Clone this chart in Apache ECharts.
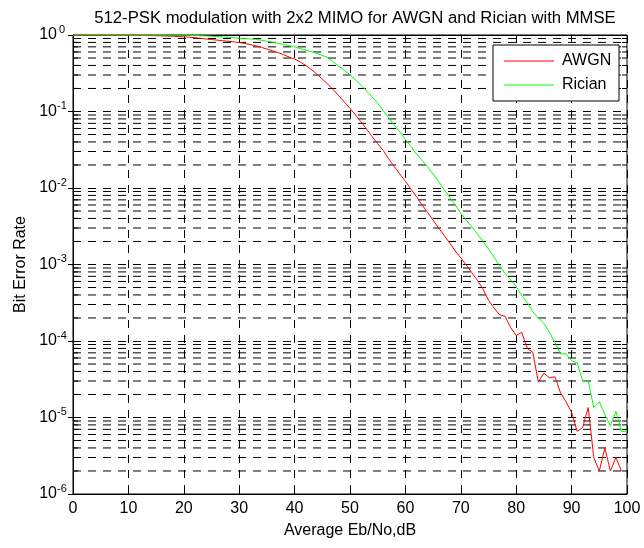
<!DOCTYPE html>
<html lang="en">
<head>
    <meta charset="utf-8">
    <title>512-PSK BER</title>
    <script src="https://cdn.jsdelivr.net/npm/echarts@6/dist/echarts.min.js"></script>
    <style>
        html, body { margin: 0; padding: 0; background: #fff; }
    </style>
</head>
<body>
<div id="main" style="width:644px;height:548px;"></div>

<script type="text/javascript">
    var ebno = [0,1,2,3,4,5,6,7,8,9,10,11,12,13,14,15,16,17,18,19,20,
        21,22,23,24,25,26,27,28,29,30,31,32,33,34,35,36,37,38,39,40,
        41,42,43,44,45,46,47,48,49,50,51,52,53,54,55,56,57,58,59,60,
        61,62,63,64,65,66,67,68,69,70,71,72,73,74,75,76,77,78,79,80,
        81,82,83,84,85,86,87,88,89,90,91,92,93,94,95,96,97,98,99,100];

    // AWGN (no point drawn at 100)
    var awgn = [0.997,0.997,0.996,0.996,0.995,0.995,0.994,0.993,0.992,0.991,
        0.99,0.988,0.986,0.984,0.981,0.978,0.974,0.969,0.963,0.955,
        0.946,0.935,0.922,0.905,0.888,0.872,0.857,0.842,0.828,0.813,
        0.797,0.775,0.75,0.722,0.69,0.655,0.622,0.59,0.555,0.515,
        0.485,0.445,0.4,0.355,0.31,0.265,0.228,0.192,0.16,0.132,
        0.11,0.09,0.073,0.059,0.047,0.038,0.031,0.024,0.019,0.0152,
        0.0122,0.0097,0.0077,0.006,0.0048,0.0038,0.003,0.0024,0.0019,0.0015,
        0.00122,0.00098,0.00078,0.00062,0.00048,0.00034,0.00027,0.00022,0.00021,0.00015,
        0.000118,0.00013,0.00008,0.000071,0.000029,0.000038,0.000033,0.000034,0.000021,0.000016,
        0.0000117,0.0000066,0.0000074,0.0000135,0.000003,0.000002,0.000004,0.000002,0.000003,0.000002,
        null];

    var rician = [0.999,0.999,0.999,0.999,0.999,0.999,0.999,0.998,0.998,0.998,
        0.998,0.997,0.997,0.996,0.996,0.995,0.994,0.993,0.992,0.991,
        0.99,0.988,0.985,0.98,0.972,0.963,0.952,0.94,0.93,0.918,
        0.905,0.895,0.888,0.878,0.855,0.83,0.805,0.78,0.755,0.725,
        0.7,0.665,0.635,0.605,0.575,0.54,0.505,0.445,0.39,0.345,
        0.3,0.26,0.22,0.185,0.155,0.128,0.103,0.083,0.066,0.054,
        0.043,0.035,0.028,0.023,0.019,0.0152,0.0122,0.0095,0.0076,0.006,
        0.0047,0.0038,0.0031,0.0025,0.002,0.0016,0.00125,0.00097,0.00076,0.00063,
        0.00052,0.00039,0.00032,0.00024,0.0002,0.00017,0.00013,0.000095,0.000068,0.000068,
        0.000055,0.000052,0.00003,0.00003,0.0000135,0.000016,0.000011,0.0000078,0.000012,0.0000066,
        0.0000066];

    var xTicks = [0,10,20,30,40,50,60,70,80,90,100];

    // minor log grid: 2..9 x 10^k
    var minorGrid = [
        2e-6,3e-6,4e-6,5e-6,6e-6,7e-6,8e-6,9e-6,
        2e-5,3e-5,4e-5,5e-5,6e-5,7e-5,8e-5,9e-5,
        2e-4,3e-4,4e-4,5e-4,6e-4,7e-4,8e-4,9e-4,
        2e-3,3e-3,4e-3,5e-3,6e-3,7e-3,8e-3,9e-3,
        2e-2,3e-2,4e-2,5e-2,6e-2,7e-2,8e-2,9e-2,
        2e-1,3e-1,4e-1,5e-1,6e-1,7e-1,8e-1,9e-1];

    var font = 'Liberation Sans, Arial, Helvetica, sans-serif';
    var dash = [8, 7];

    var toPairs = function (ys) {
        return ys.map(function (v, i) { return [ebno[i], v]; });
    };

    var expLabel = function (v) {
        var e = Math.round(Math.log(v) / Math.LN10);
        return '{b|10}{s|' + e + '}';
    };

    // grid lines and small ticks as broken polylines ('-' = gap)
    var gridData = [], tickData = [];
    minorGrid.forEach(function (v) {
        gridData.push([0, v], [100, v], '-');
        tickData.push([0, v], [0.9, v], '-', [99.1, v], [100, v], '-');
    });

    var myChart = echarts.init(document.getElementById('main'), null, { renderer: 'canvas' });

    myChart.setOption({
        animation: false,
        backgroundColor: '#fff',
        textStyle: { fontFamily: font, color: '#000' },
        title: {
            text: '512-PSK modulation with 2x2 MIMO for AWGN and Rician with MMSE',
            left: 350,
            textAlign: 'center',
            top: 5,
            textStyle: { fontFamily: font, fontSize: 16.7, fontWeight: 'normal', color: '#000' }
        },
        legend: {
            data: [{ name: 'AWGN', icon: 'rect' }, { name: 'Rician', icon: 'rect' }],
            orient: 'vertical',
            left: 493,
            top: 45,
            padding: [8, 7, 8, 11],
            itemWidth: 50,
            itemHeight: 1,
            itemGap: 8,
            backgroundColor: '#fff',
            borderColor: '#000',
            borderWidth: 1,
            borderRadius: 0,
            textStyle: {
                fontFamily: font, fontSize: 16, lineHeight: 16, color: '#000',
                width: 50, overflow: 'none', padding: [0, 0, 0, 3]
            }
        },
        grid: {
            left: 73, right: 17, top: 35, bottom: 54,
            outerBoundsMode: 'none',
            show: true, borderColor: '#000', borderWidth: 1, backgroundColor: '#fff'
        },
        xAxis: [{
            type: 'value',
            min: 0, max: 100, interval: 10,
            name: 'Average Eb/No,dB',
            nameLocation: 'middle',
            nameGap: 29,
            nameTextStyle: { fontFamily: font, fontSize: 16, color: '#000' },
            axisLine: { show: true, lineStyle: { color: '#000', width: 1 } },
            axisTick: { show: true, inside: true, length: 5, lineStyle: { color: '#000' } },
            axisLabel: {
                fontFamily: font, fontSize: 16, color: '#000', margin: 7,
                formatter: function (v) { return xTicks.indexOf(v) >= 0 ? String(v) : ''; }
            },
            splitLine: { show: true, lineStyle: { color: '#000', type: dash, width: 1 } }
        }, {
            type: 'value', position: 'top',
            min: 0, max: 100, interval: 10,
            axisLine: { show: true, lineStyle: { color: '#000', width: 1 } },
            axisTick: { show: true, inside: true, length: 5, lineStyle: { color: '#000' } },
            axisLabel: { show: false },
            splitLine: { show: false }
        }],
        yAxis: [{
            type: 'log', logBase: 10,
            min: 1e-6, max: 1,
            splitNumber: 6,
            name: 'Bit Error Rate',
            nameLocation: 'middle',
            nameGap: 42,
            nameTextStyle: { fontFamily: font, fontSize: 16, color: '#000' },
            axisLine: { show: true, lineStyle: { color: '#000', width: 1 } },
            axisTick: { show: true, inside: true, length: 5, lineStyle: { color: '#000' } },
            axisLabel: {
                margin: 6,
                formatter: expLabel,
                rich: {
                    b: { fontFamily: font, fontSize: 16, color: '#000', lineHeight: 22 },
                    s: { fontFamily: font, fontSize: 11, color: '#000', verticalAlign: 'top', lineHeight: 4, width: 10, align: 'left' }
                }
            },
            splitLine: { show: true, lineStyle: { color: '#000', type: dash, width: 1 } }
        }, {
            type: 'log', logBase: 10, position: 'right',
            min: 1e-6, max: 1,
            splitNumber: 6,
            axisLine: { show: true, lineStyle: { color: '#000', width: 1 } },
            axisTick: { show: true, inside: true, length: 5, lineStyle: { color: '#000' } },
            axisLabel: { show: false },
            splitLine: { show: false }
        }],
        series: [{
            name: 'minor grid',
            type: 'line',
            symbol: 'none',
            silent: true,
            connectNulls: false,
            lineStyle: { color: '#000', type: dash, width: 1 },
            data: gridData,
            z: 1
        }, {
            name: 'minor ticks',
            type: 'line',
            symbol: 'none',
            silent: true,
            connectNulls: false,
            lineStyle: { color: '#000', type: 'solid', width: 1 },
            data: tickData,
            z: 1
        }, {
            name: 'AWGN',
            type: 'line',
            symbol: 'none',
            connectNulls: false,
            lineStyle: { color: '#ff0000', width: 1 },
            itemStyle: { color: '#ff0000' },
            data: toPairs(awgn),
            z: 3
        }, {
            name: 'Rician',
            type: 'line',
            symbol: 'none',
            lineStyle: { color: '#00ff00', width: 1 },
            itemStyle: { color: '#00ff00' },
            data: toPairs(rician),
            z: 4
        }]
    });
</script>
</body>
</html>
